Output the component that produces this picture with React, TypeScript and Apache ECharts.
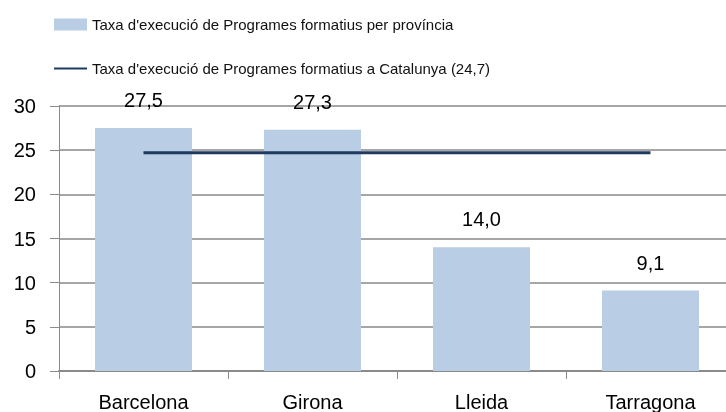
import React, { useEffect, useRef } from "react";
import * as echarts from "echarts";

const categories = ["Barcelona", "Girona", "Lleida", "Tarragona"];
const provinceValues = [27.5, 27.3, 14.0, 9.1];
const cataloniaValue = 24.7;
const yTicks = { min: 0, max: 30, interval: 5 };
const barName = "Taxa d'execució de Programes formatius per província";
const lineName = "Taxa d'execució de Programes formatius a Catalunya (24,7)";

const fmt = (v: number) => v.toFixed(1).replace(".", ",");

export default function App() {
  const ref = useRef<HTMLDivElement>(null);
  useEffect(() => {
    if (!ref.current) return;
    const chart = echarts.init(ref.current, undefined, { renderer: "svg" });
    const font = "Liberation Sans, Arial, sans-serif";
    chart.setOption({
      animation: false,
      textStyle: { fontFamily: font, color: "#000" },
      legend: {
        orient: "vertical",
        left: 48,
        top: 12,
        itemWidth: 33,
        itemHeight: 12,
        itemGap: 29,
        textStyle: { fontFamily: font, fontSize: 15, color: "#111" },
        data: [
          { name: barName, icon: "rect" },
          { name: lineName, lineStyle: { width: 2 }, itemStyle: { opacity: 0 } },
        ],
      },
      grid: { left: 59, top: 106, bottom: 39, right: 0, containLabel: false },
      xAxis: {
        type: "category",
        data: categories,
        axisLine: { lineStyle: { color: "#8a8a8a", width: 2 } },
        axisTick: { show: true, length: 8, lineStyle: { color: "#8a8a8a" } },
        axisLabel: { fontSize: 20, color: "#000", margin: 21, fontFamily: font },
      },
      yAxis: {
        type: "value",
        min: yTicks.min,
        max: yTicks.max,
        interval: yTicks.interval,
        axisLine: { show: true, lineStyle: { color: "#8a8a8a", width: 1 } },
        axisTick: { show: true, length: 9, lineStyle: { color: "#8a8a8a" } },
        axisLabel: { fontSize: 20, color: "#000", margin: 23, fontFamily: font },
        splitLine: { lineStyle: { color: "#a6a6a6", width: 2 } },
      },
      series: [
        {
          name: barName,
          type: "bar",
          data: provinceValues,
          barWidth: 97,
          itemStyle: { color: "#b9cde5" },
          label: {
            show: true,
            position: "top",
            distance: 18,
            fontSize: 20,
            color: "#000",
            fontFamily: font,
            formatter: (p: any) => fmt(p.value),
          },
        },
        {
          name: lineName,
          type: "line",
          data: categories.map(() => cataloniaValue),
          symbol: "none",
          lineStyle: { color: "#1f3a60", width: 3 },
          itemStyle: { color: "#1f3a60" },
        },
      ],
    });
    return () => chart.dispose();
  }, []);
  return (
    <div
      style={{
        position: "fixed",
        left: 0,
        top: 0,
        width: 726,
        height: 412,
        overflow: "hidden",
      }}
    >
      <div ref={ref} style={{ width: 735, height: 412 }} />
    </div>
  );
}
